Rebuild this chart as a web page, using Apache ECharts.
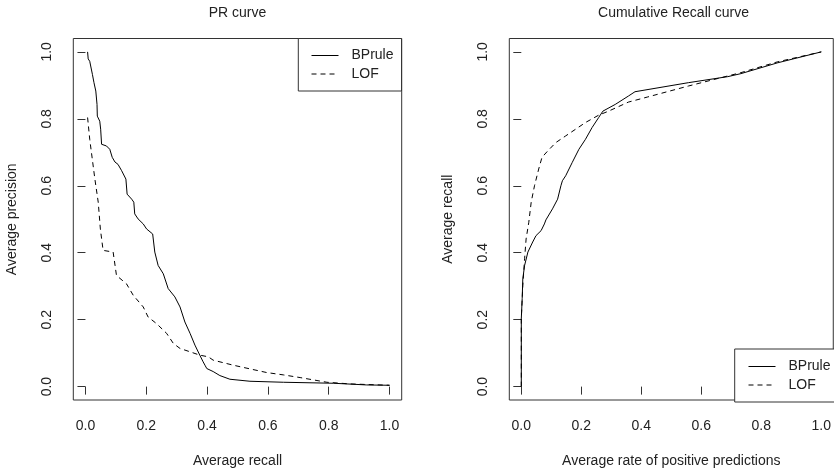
<!DOCTYPE html>
<html><head><meta charset="utf-8">
<script src="https://cdn.jsdelivr.net/npm/echarts@6/dist/echarts.min.js"></script>
<style>html,body{margin:0;padding:0;background:#fff}#c{width:834px;height:473px}</style>
</head><body><div id="c"></div>
<script>
// ---- data ----
const tickValues = [0, 0.2, 0.4, 0.6, 0.8, 1.0];
const seriesNames = ['BPrule', 'LOF'];
const titles = ['PR curve', 'Cumulative Recall curve'];
const xNames = ['Average recall', 'Average rate of positive predictions'];
const yNames = ['Average precision', 'Average recall'];

// PR curve
const prRecallBP = [0.007,0.009,0.014,0.023,0.028,0.034,0.038,0.039,0.047,0.050,0.053,0.069,0.080,0.088,0.097,0.107,0.119,0.133,0.137,0.152,0.159,0.162,0.173,0.190,0.201,0.221,0.228,0.239,0.256,0.272,0.294,0.311,0.327,0.344,0.360,0.376,0.387,0.393,0.399,0.420,0.442,0.475,0.541,0.651,0.816,0.925,1.0];
const prPrecisionBP = [1.0,0.979,0.972,0.932,0.908,0.883,0.843,0.808,0.793,0.769,0.724,0.719,0.709,0.685,0.671,0.664,0.645,0.620,0.575,0.560,0.551,0.516,0.501,0.486,0.471,0.456,0.402,0.362,0.337,0.293,0.268,0.238,0.193,0.159,0.124,0.094,0.074,0.064,0.054,0.045,0.033,0.022,0.016,0.013,0.010,0.005,0.004];
const prRecallLOF = [0.007,0.014,0.031,0.042,0.049,0.058,0.091,0.102,0.135,0.157,0.190,0.206,0.234,0.267,0.289,0.311,0.344,0.376,0.404,0.420,0.486,0.596,0.651,0.706,0.794,0.871,1.0];
const prPrecisionLOF = [0.804,0.739,0.62,0.551,0.471,0.407,0.402,0.332,0.307,0.273,0.238,0.208,0.188,0.159,0.129,0.114,0.104,0.094,0.089,0.079,0.064,0.042,0.035,0.027,0.013,0.008,0.004];

// Cumulative recall curve
const crRateBP = [0,0,0.003,0.005,0.011,0.022,0.038,0.049,0.066,0.077,0.082,0.104,0.121,0.132,0.137,0.148,0.170,0.192,0.214,0.236,0.258,0.272,0.313,0.357,0.379,0.557,0.688,0.732,0.853,1.0];
const crRecallBP = [0,0.203,0.263,0.322,0.362,0.402,0.432,0.451,0.466,0.486,0.498,0.531,0.560,0.600,0.615,0.630,0.670,0.709,0.739,0.774,0.804,0.823,0.843,0.868,0.881,0.908,0.926,0.935,0.967,1.0];
const crRateLOF = [0,0,0.005,0.011,0.016,0.025,0.033,0.044,0.058,0.069,0.088,0.115,0.148,0.181,0.214,0.258,0.291,0.357,0.420,0.557,0.666,0.732,0.853,1.0];
const crRecallLOF = [0,0.203,0.302,0.382,0.441,0.491,0.551,0.600,0.650,0.685,0.704,0.729,0.749,0.769,0.789,0.811,0.823,0.850,0.865,0.898,0.923,0.938,0.970,1.0];

// ---- chart ----
const FONT = 'Liberation Sans, Arial, Helvetica, sans-serif';
const TXT = '#222';
const LINE = '#333';
const zip = (a, b) => a.map((v, i) => [v, b[i]]);

function xAxis(gi, name) {
  return {
    type: 'value', gridIndex: gi, min: -0.04, max: 1.04,
    name: name, nameLocation: 'middle', nameGap: 54,
    nameTextStyle: { fontSize: 14, color: TXT, fontFamily: FONT },
    axisLine: { show: false },
    axisTick: { show: true, length: 8, lineStyle: { color: LINE, width: 1 }, customValues: tickValues },
    axisLabel: { customValues: tickValues, formatter: v => v.toFixed(1), fontSize: 14, color: TXT, fontFamily: FONT, margin: 19 },
    splitLine: { show: false }
  };
}
function yAxis(gi, name) {
  return {
    type: 'value', gridIndex: gi, min: -0.04, max: 1.04,
    name: name, nameLocation: 'middle', nameGap: 54,
    nameTextStyle: { fontSize: 14, color: TXT, fontFamily: FONT },
    axisLine: { show: false },
    axisTick: { show: true, length: 8, lineStyle: { color: LINE, width: 1 }, customValues: tickValues },
    axisLabel: { customValues: tickValues, formatter: v => v.toFixed(1), fontSize: 14, color: TXT, fontFamily: FONT, margin: 19, rotate: 90 },
    splitLine: { show: false }
  };
}
function lineSeries(name, gi, data, dashed) {
  return {
    name: name, type: 'line', xAxisIndex: gi, yAxisIndex: gi, data: data,
    symbol: 'none', animation: false,
    lineStyle: { color: '#000', width: 1, type: dashed ? [5, 4] : 'solid' },
    itemStyle: { color: '#000' }
  };
}
function legend(left, top, padding) {
  return {
    data: seriesNames, orient: 'vertical', left: left, top: top,
    padding: padding, itemGap: 4.5, itemWidth: 27, itemHeight: 14,
    backgroundColor: '#fff', borderColor: LINE, borderWidth: 1, borderRadius: 0,
    selectedMode: false,
    itemStyle: { opacity: 0 },
    lineStyle: { width: 1 },
    textStyle: { fontSize: 14, color: TXT, fontFamily: FONT, padding: [0, 0, 0, 8] }
  };
}

const chart = echarts.init(document.getElementById('c'), null, { renderer: 'canvas' });
chart.setOption({
  animation: false,
  backgroundColor: '#fff',
  grid: [
    { left: 73.3, top: 38.5, width: 328.4, height: 363.2, show: true, borderColor: LINE, borderWidth: 1, backgroundColor: 'transparent' },
    { left: 509.3, top: 38.5, width: 328.4, height: 363.2, show: true, borderColor: LINE, borderWidth: 1, backgroundColor: 'transparent' }
  ],
  xAxis: [xAxis(0, xNames[0]), xAxis(1, xNames[1])],
  yAxis: [yAxis(0, yNames[0]), yAxis(1, yNames[1])],
  legend: [legend(298.3, 38.5, [10, 8, 10, 12.7]), legend(734.7, 349, [10.5, 20, 10, 13.3])],
  graphic: [
    { type: 'text', x: 237.5, y: 13, style: { text: titles[0], textAlign: 'center', textVerticalAlign: 'middle', font: '14px ' + FONT, fill: TXT } },
    { type: 'text', x: 673.5, y: 13, style: { text: titles[1], textAlign: 'center', textVerticalAlign: 'middle', font: '14px ' + FONT, fill: TXT } }
  ],
  series: [
    lineSeries(seriesNames[0], 0, zip(prRecallBP, prPrecisionBP), false),
    lineSeries(seriesNames[1], 0, zip(prRecallLOF, prPrecisionLOF), true),
    lineSeries(seriesNames[0], 1, zip(crRateBP, crRecallBP), false),
    lineSeries(seriesNames[1], 1, zip(crRateLOF, crRecallLOF), true)
  ]
});
</script></body></html>
